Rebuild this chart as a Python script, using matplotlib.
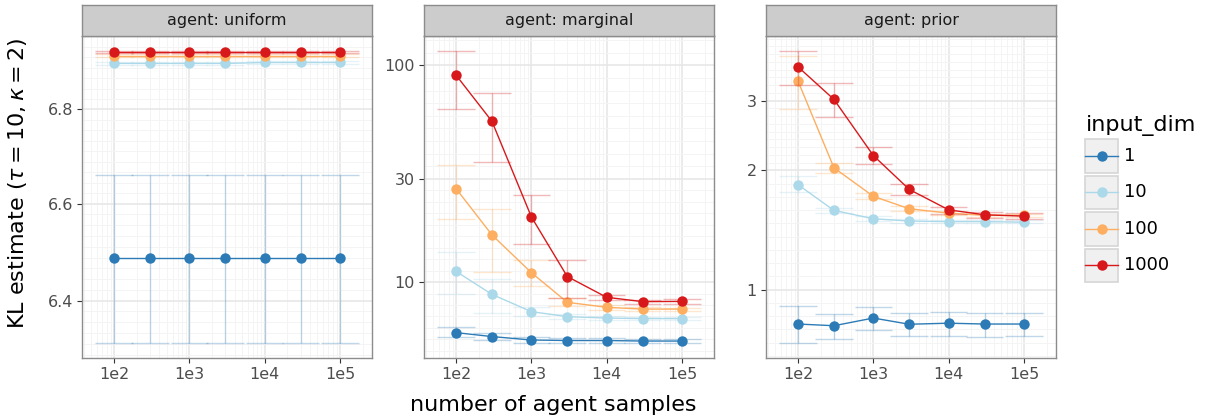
#### KL estimate vs number of agent samples, faceted by agent ####

import numpy as np
import matplotlib
matplotlib.use("Agg")
import matplotlib.pyplot as plt
from matplotlib.patches import Rectangle
from matplotlib.ticker import NullFormatter

# x values shared by every series
samples = [1e2, 3e2, 1e3, 3e3, 1e4, 3e4, 1e5]
x_ticks = [1e2, 1e3, 1e4, 1e5]
x_labels = ["1e2", "1e3", "1e4", "1e5"]

input_dims = ["1", "10", "100", "1000"]
colors = ["#2c7bb6", "#abd9e9", "#fdae61", "#d7191c"]
agents = ["uniform", "marginal", "prior"]

# agent: uniform  (rows follow input_dims)
uniform_mean = [[6.488, 6.488, 6.488, 6.488, 6.488, 6.488, 6.488],
                [6.900, 6.900, 6.900, 6.900, 6.902, 6.902, 6.902],
                [6.917, 6.917, 6.917, 6.917, 6.917, 6.917, 6.917],
                [6.925, 6.925, 6.925, 6.925, 6.925, 6.925, 6.925]]
uniform_lo = [[6.314, 6.314, 6.314, 6.314, 6.314, 6.314, 6.314],
              [6.896, 6.896, 6.896, 6.896, 6.898, 6.898, 6.898],
              [6.913, 6.913, 6.913, 6.913, 6.913, 6.913, 6.913],
              [6.922, 6.922, 6.922, 6.922, 6.922, 6.922, 6.922]]
uniform_hi = [[6.661, 6.661, 6.661, 6.661, 6.661, 6.661, 6.661],
              [6.904, 6.904, 6.904, 6.904, 6.906, 6.906, 6.906],
              [6.921, 6.921, 6.921, 6.921, 6.921, 6.921, 6.921],
              [6.928, 6.928, 6.928, 6.928, 6.928, 6.928, 6.928]]

# agent: marginal
marginal_mean = [[5.84, 5.60, 5.40, 5.37, 5.37, 5.34, 5.34],
                 [11.2, 8.77, 7.30, 6.92, 6.82, 6.78, 6.78],
                 [27.0, 16.5, 11.05, 8.06, 7.64, 7.50, 7.50],
                 [90.2, 55.2, 20.0, 10.6, 8.50, 8.12, 8.14]]
marginal_lo = [[5.56, 5.38, 5.25, 5.24, 5.23, 5.21, 5.22],
               [8.77, 7.20, 6.95, 6.75, 6.70, 6.68, 6.68],
               [19.5, 11.1, 9.55, 7.72, 7.45, 7.35, 7.38],
               [63.0, 35.8, 15.0, 8.40, 8.23, 7.95, 7.95]]
marginal_hi = [[6.18, 5.84, 5.56, 5.50, 5.50, 5.47, 5.47],
               [13.7, 10.3, 7.70, 7.10, 6.95, 6.90, 6.88],
               [34.6, 21.8, 12.7, 8.40, 7.85, 7.65, 7.62],
               [117.0, 74.5, 25.1, 12.7, 8.71, 8.30, 8.32]]

# agent: prior
prior_mean = [[0.819, 0.811, 0.848, 0.818, 0.823, 0.819, 0.819],
              [1.84, 1.585, 1.51, 1.49, 1.485, 1.485, 1.48],
              [3.36, 2.03, 1.72, 1.60, 1.56, 1.54, 1.54],
              [3.65, 3.02, 2.18, 1.79, 1.59, 1.545, 1.533]]
prior_lo = [[0.732, 0.752, 0.791, 0.766, 0.766, 0.761, 0.762],
            [1.76, 1.56, 1.49, 1.475, 1.47, 1.47, 1.47],
            [2.86, 1.97, 1.69, 1.575, 1.545, 1.525, 1.525],
            [3.29, 2.73, 2.07, 1.73, 1.555, 1.52, 1.51]]
prior_hi = [[0.909, 0.868, 0.905, 0.873, 0.878, 0.875, 0.875],
            [1.94, 1.61, 1.53, 1.505, 1.50, 1.50, 1.495],
            [3.88, 2.09, 1.75, 1.625, 1.575, 1.555, 1.555],
            [4.01, 3.32, 2.29, 1.85, 1.62, 1.57, 1.56]]

y_ticks = {"uniform": [6.4, 6.6, 6.8],
           "marginal": [10, 30, 100],
           "prior": [1, 2, 3]}
y_labels = {"uniform": ["6.4", "6.6", "6.8"],
            "marginal": ["10", "30", "100"],
            "prior": ["1", "2", "3"]}

data = {"uniform": (uniform_mean, uniform_lo, uniform_hi),
        "marginal": (marginal_mean, marginal_lo, marginal_hi),
        "prior": (prior_mean, prior_lo, prior_hi)}

W, H = 1209, 419
fig = plt.figure(figsize=(W / 100, H / 100), dpi=100)


def px_axes(left, top, width, height):
    return fig.add_axes([left / W, 1 - (top + height) / H, width / W, height / H])


def log_expand(lo, hi, frac=0.05):
    a, b = np.log10(lo), np.log10(hi)
    d = (b - a) * frac
    return 10 ** (a - d), 10 ** (b + d)


def even_log_minors(majors, lo, hi, n=8):
    logs = np.log10(majors)
    out = []
    for i in range(len(logs) - 1):
        step = (logs[i + 1] - logs[i]) / (n + 1)
        out += [logs[i] + k * step for k in range(1, n + 1)]
    # carry spacing beyond the outer majors
    s0 = (logs[1] - logs[0]) / (n + 1)
    s1 = (logs[-1] - logs[-2]) / (n + 1)
    v = logs[0] - s0
    while v > np.log10(lo):
        out.append(v)
        v -= s0
    v = logs[-1] + s1
    while v < np.log10(hi):
        out.append(v)
        v += s1
    return [10 ** v for v in out]


cap = 10 ** 0.25
border = "#8c8c8c"
panel_left = [82, 424, 766]

for agent, left in zip(agents, panel_left):
    ax = px_axes(left, 36, 290, 322)
    mean, lo, hi = data[agent]

    for i in range(len(input_dims)):
        c = colors[i]
        x = np.array(samples)
        ax.vlines(x, lo[i], hi[i], color=c, alpha=0.3, lw=1, zorder=2 + i)
        ax.hlines(lo[i], x / cap, x * cap, color=c, alpha=0.3, lw=1, zorder=2 + i)
        ax.hlines(hi[i], x / cap, x * cap, color=c, alpha=0.3, lw=1, zorder=2 + i)
        ax.plot(x, mean[i], color=c, lw=1, marker="o", ms=7.5, mew=0, zorder=3 + i)

    ax.set_xscale("log")
    ax.set_yscale("log")
    x0, x1 = log_expand(samples[0] / cap, samples[-1] * cap)
    ax.set_xlim(x0, x1)
    y0, y1 = log_expand(np.min(lo), np.max(hi))
    ax.set_ylim(y0, y1)

    ax.set_xticks(x_ticks)
    ax.set_xticklabels(x_labels)
    ax.set_yticks(y_ticks[agent])
    ax.set_yticklabels(y_labels[agent])
    ax.set_yticks(even_log_minors(y_ticks[agent], y0, y1), minor=True)
    ax.yaxis.set_minor_formatter(NullFormatter())
    ax.xaxis.set_minor_formatter(NullFormatter())

    ax.grid(True, which="major", color="#e6e6e6", lw=1.1, zorder=0)
    ax.grid(True, which="minor", color="#f4f4f4", lw=0.7, zorder=0)
    ax.set_axisbelow(True)
    ax.tick_params(which="major", length=3.5, width=0.8, color="#333333",
                   labelsize=11.5, labelcolor="#4d4d4d", pad=3)
    ax.tick_params(which="minor", length=0)
    for sp in ax.spines.values():
        sp.set_color(border)
        sp.set_linewidth(1)

    # facet strip
    st = px_axes(left, 5, 290, 31)
    st.set_facecolor("#cccccc")
    st.set_xticks([])
    st.set_yticks([])
    for sp in st.spines.values():
        sp.set_color(border)
        sp.set_linewidth(1)
    st.text(0.5, 0.5, "agent: " + agent, ha="center", va="center",
            fontsize=11.5, color="#1a1a1a", transform=st.transAxes)

fig.text(553 / W, 1 - 405 / H, "number of agent samples", ha="center", va="center", fontsize=16)
fig.text(18 / W, 1 - 183 / H, r"KL estimate ($\tau = 10, \kappa = 2$)", rotation=90,
         ha="center", va="center", fontsize=16)

# legend drawn by hand (separate grey key boxes)
lg = px_axes(1070, 100, 139, 200)
lg.set_xlim(0, 139)
lg.set_ylim(200, 0)
lg.axis("off")
lg.text(16, 31, "input_dim", fontsize=16, va="baseline", ha="left")
for i, (lab, c) in enumerate(zip(input_dims, colors)):
    top = 39 + i * 36.5
    lg.add_patch(Rectangle((15, top), 33, 33.5, facecolor="#f0f0f0",
                           edgecolor="#d6d6d6", lw=1.2))
    yc = top + 33.5 / 2
    lg.plot([15, 48], [yc, yc], color=c, lw=1)
    lg.plot([31.5], [yc], color=c, marker="o", ms=7.5, mew=0)
    lg.text(54, yc, lab, fontsize=13, va="center", ha="left")

fig.savefig("out.png", dpi=100)
